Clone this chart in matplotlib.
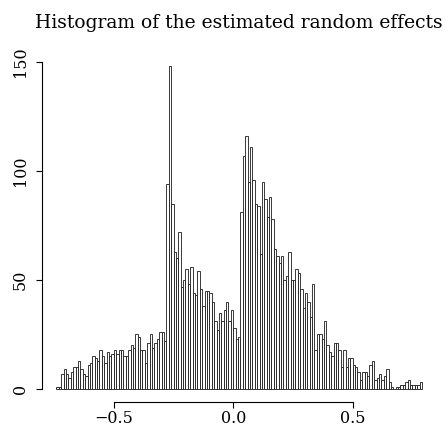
import numpy as np
import matplotlib
matplotlib.use("Agg")
import matplotlib.pyplot as plt

# histogram of estimated random effects, bins of width 0.01 from -0.74
bin_start = -0.74
bin_width = 0.01
counts = [
    1, 1, 7, 9, 7, 5, 8, 10, 10, 13,
    9, 7, 6, 11, 12, 15, 14, 13, 18, 15,
    12, 17, 15, 16, 18, 16, 18, 18, 15, 15,
    18, 20, 19, 25, 24, 18, 18, 12, 21, 25,
    19, 21, 23, 26, 26, 22, 94, 148, 85, 63,
    60, 72, 47, 50, 55, 48, 56, 44, 43, 54,
    46, 38, 45, 45, 44, 40, 31, 27, 35, 31,
    36, 40, 31, 36, 28, 23, 24, 81, 107, 116,
    95, 111, 96, 85, 84, 62, 95, 87, 79, 88,
    78, 64, 61, 58, 61, 50, 52, 63, 50, 50,
    55, 53, 46, 37, 44, 40, 33, 48, 18, 25,
    25, 23, 31, 20, 17, 15, 21, 21, 18, 10,
    18, 10, 14, 14, 11, 10, 8, 4, 8, 8,
    6, 11, 13, 4, 5, 7, 4, 6, 9, 3,
    1, 0, 1, 1, 2, 2, 3, 4, 2, 2,
    2, 2, 3,
]
x_ticks = [-0.5, 0.0, 0.5]
x_tick_labels = ["\u22120.5", "0.0", "0.5"]
y_ticks = [0, 50, 100, 150]

plt.rcParams['font.family'] = ['DejaVu Serif']

edges = bin_start + bin_width * np.arange(len(counts) + 1)
lo, hi = edges[0], edges[-1]
xpad = 0.04 * (hi - lo)
ypad = 0.04 * max(counts)

fig = plt.figure(figsize=(4.46, 4.32), dpi=100)
ax = fig.add_axes([0.0939, 0.0697, 0.885, 0.8067])

ax.bar(edges[:-1], counts, width=bin_width, align='edge',
       color='white', edgecolor='#1a1a1a', linewidth=0.6)

ax.set_xlim(lo - xpad, hi + xpad)
ax.set_ylim(-ypad, max(counts) + ypad)

for s in ['top', 'right']:
    ax.spines[s].set_visible(False)
ax.spines['bottom'].set_bounds(x_ticks[0], x_ticks[-1])
ax.spines['left'].set_bounds(y_ticks[0], y_ticks[-1])
ax.spines['bottom'].set_linewidth(0.8)
ax.spines['left'].set_linewidth(0.8)

ax.set_xticks(x_ticks)
ax.set_xticklabels(x_tick_labels)
ax.set_yticks(y_ticks)
ax.set_yticklabels([str(v) for v in y_ticks], rotation=90, va='center')
ax.tick_params(axis='both', direction='out', length=4.5, width=0.8,
               labelsize=11.5, colors='black')
ax.tick_params(axis='x', pad=1)
ax.tick_params(axis='y', pad=5)

ax.set_title("Histogram of the estimated random effects", fontsize=13.5, pad=18.5)

fig.savefig("out.png", dpi=100)
